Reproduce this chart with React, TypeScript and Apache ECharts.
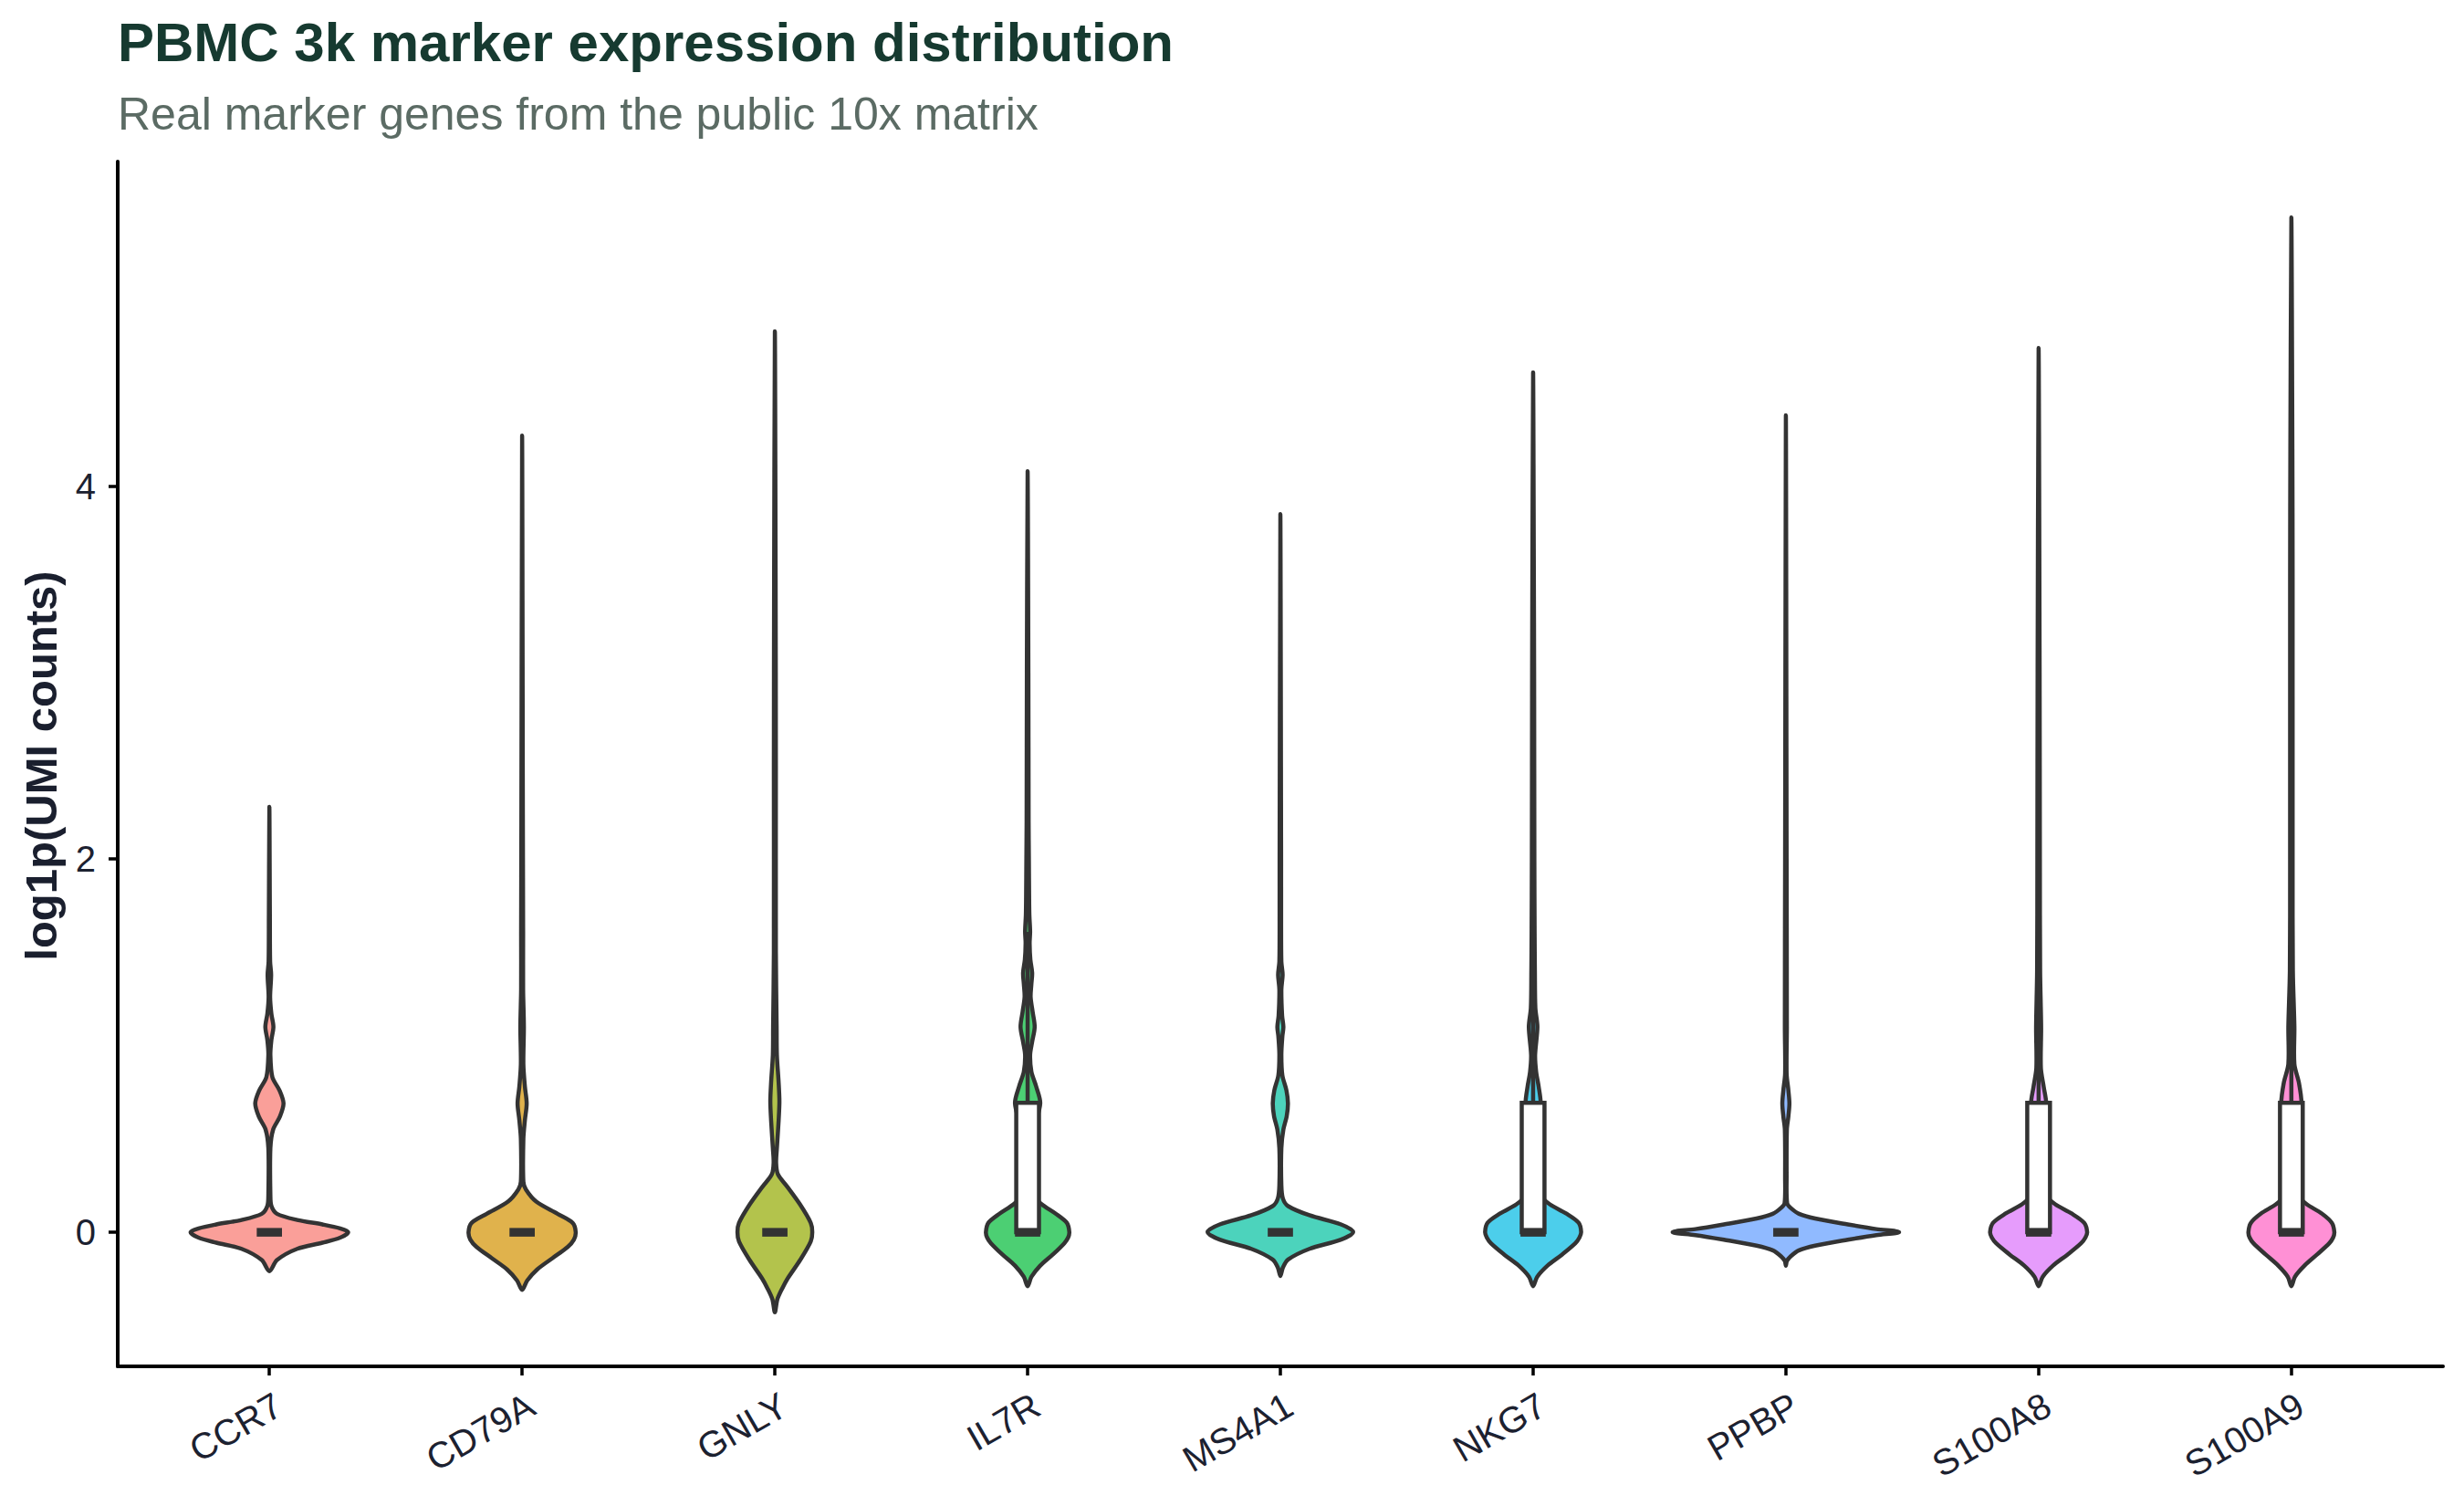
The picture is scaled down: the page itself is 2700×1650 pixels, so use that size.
import React, { useEffect, useRef } from "react";
import * as echarts from "echarts";

const genes = ["CCR7", "CD79A", "GNLY", "IL7R", "MS4A1", "NKG7", "PPBP", "S100A8", "S100A9"];
const colors = ["#F8766D", "#D39200", "#93AA00", "#00BA38", "#00C19F", "#00B9E3", "#619CFF", "#DB72FB", "#FF61C3"];

// Violin outlines: [log1p(UMI) value, half width in category units], bottom to top
const violinCCR7 = [[-0.21, 0], [-0.15, 0.03], [-0.09, 0.11], [-0.057, 0.21], [-0.03, 0.28], [0, 0.312], [0.02, 0.28], [0.041, 0.21], [0.065, 0.11], [0.098, 0.03], [0.14, 0.008], [0.2, 0.004], [0.45, 0.004], [0.55, 0.015], [0.62, 0.042], [0.69, 0.056], [0.76, 0.04], [0.83, 0.012], [0.95, 0.004], [1.03, 0.008], [1.1, 0.016], [1.17, 0.008], [1.26, 0.003], [1.38, 0.007], [1.45, 0.003], [1.7, 0.002], [2.28, 0]];
const violinCD79A = [[-0.31, 0], [-0.26, 0.02], [-0.2, 0.06], [-0.14, 0.12], [-0.08, 0.18], [-0.04, 0.205], [0, 0.212], [0.049, 0.2], [0.098, 0.14], [0.163, 0.056], [0.228, 0.015], [0.27, 0.005], [0.5, 0.005], [0.6, 0.011], [0.69, 0.018], [0.78, 0.011], [0.9, 0.005], [1.1, 0.007], [1.3, 0.004], [1.6, 0.004], [2.2, 0.003], [4.27, 0]];
const violinGNLY = [[-0.43, 0], [-0.36, 0.01], [-0.3, 0.03], [-0.25, 0.05], [-0.15, 0.1], [-0.05, 0.142], [0, 0.148], [0.049, 0.142], [0.147, 0.1], [0.245, 0.048], [0.31, 0.012], [0.37, 0.005], [0.45, 0.008], [0.6, 0.015], [0.7, 0.018], [0.8, 0.015], [0.95, 0.008], [1.1, 0.007], [1.5, 0.004], [2.5, 0.004], [3.5, 0.003], [4.83, 0]];
const violinIL7R = [[-0.29, 0], [-0.24, 0.015], [-0.18, 0.05], [-0.12, 0.1], [-0.06, 0.145], [-0.03, 0.16], [0, 0.165], [0.05, 0.155], [0.1, 0.11], [0.15, 0.055], [0.2, 0.02], [0.26, 0.008], [0.4, 0.01], [0.55, 0.025], [0.69, 0.05], [0.78, 0.034], [0.86, 0.015], [0.95, 0.01], [1.02, 0.018], [1.1, 0.028], [1.18, 0.02], [1.26, 0.012], [1.33, 0.015], [1.39, 0.018], [1.46, 0.011], [1.55, 0.008], [1.61, 0.01], [1.7, 0.007], [1.8, 0.006], [2.0, 0.005], [2.2, 0.004], [3.0, 0.003], [4.08, 0]];
const violinMS4A1 = [[-0.235, 0], [-0.19, 0.01], [-0.147, 0.031], [-0.09, 0.115], [-0.04, 0.24], [0, 0.288], [0.041, 0.24], [0.09, 0.115], [0.139, 0.031], [0.18, 0.01], [0.25, 0.004], [0.45, 0.004], [0.55, 0.012], [0.62, 0.025], [0.69, 0.03], [0.76, 0.024], [0.84, 0.008], [0.95, 0.004], [1.05, 0.008], [1.1, 0.012], [1.16, 0.007], [1.3, 0.004], [1.38, 0.009], [1.45, 0.004], [1.7, 0.003], [2.0, 0.003], [3.85, 0]];
const violinNKG7 = [[-0.29, 0], [-0.24, 0.016], [-0.18, 0.057], [-0.12, 0.115], [-0.06, 0.167], [-0.03, 0.183], [0, 0.19], [0.05, 0.18], [0.1, 0.13], [0.15, 0.065], [0.2, 0.025], [0.26, 0.01], [0.4, 0.012], [0.55, 0.02], [0.69, 0.03], [0.78, 0.022], [0.86, 0.012], [0.95, 0.008], [1.1, 0.017], [1.2, 0.009], [1.4, 0.007], [1.6, 0.006], [2.0, 0.005], [3.0, 0.004], [3.5, 0.003], [4.61, 0]];
const violinPPBP = [[-0.18, 0], [-0.155, 0.004], [-0.13, 0.019], [-0.098, 0.052], [-0.073, 0.116], [-0.041, 0.245], [-0.016, 0.358], [-0.005, 0.435], [0, 0.448], [0.005, 0.435], [0.016, 0.358], [0.041, 0.245], [0.073, 0.116], [0.098, 0.052], [0.13, 0.019], [0.155, 0.005], [0.3, 0.003], [0.55, 0.004], [0.62, 0.01], [0.69, 0.014], [0.76, 0.01], [0.85, 0.003], [1.1, 0.004], [2.0, 0.003], [4.38, 0]];
const violinS100A8 = [[-0.29, 0], [-0.24, 0.016], [-0.18, 0.057], [-0.12, 0.115], [-0.06, 0.168], [-0.03, 0.185], [0, 0.192], [0.05, 0.18], [0.1, 0.13], [0.15, 0.065], [0.2, 0.025], [0.26, 0.012], [0.4, 0.014], [0.55, 0.02], [0.69, 0.03], [0.78, 0.02], [0.88, 0.009], [1.1, 0.01], [1.4, 0.006], [2.0, 0.005], [3.0, 0.004], [4.74, 0]];
const violinS100A9 = [[-0.29, 0], [-0.24, 0.014], [-0.18, 0.052], [-0.12, 0.102], [-0.06, 0.15], [-0.03, 0.165], [0, 0.17], [0.05, 0.16], [0.1, 0.12], [0.15, 0.06], [0.2, 0.025], [0.26, 0.014], [0.4, 0.018], [0.55, 0.028], [0.69, 0.04], [0.8, 0.03], [0.9, 0.012], [1.1, 0.012], [1.4, 0.006], [2.0, 0.005], [3.5, 0.005], [4.2, 0.004], [5.44, 0]];
const violins = [violinCCR7, violinCD79A, violinGNLY, violinIL7R, violinMS4A1, violinNKG7, violinPPBP, violinS100A8, violinS100A9];

// Box plot statistics
const boxQ1 = [0, 0, 0, 0, 0, 0, 0, 0, 0];
const boxMedian = [0, 0, 0, 0, 0, 0, 0, 0, 0];
const boxQ3 = [0, 0, 0, 0.693, 0, 0.693, 0, 0.693, 0.693];
const whiskerHigh = [0, 0, 0, 1.609, 0, 1.609, 0, 1.609, 1.609];

const yTicks = [0, 2, 4];
const xTicks = genes.map((_, i) => i);

const FONT = "'Liberation Sans', Arial, Helvetica, sans-serif";
const STROKE = "#333333";

function rgba(hex: string, a: number) {
  const n = parseInt(hex.slice(1), 16);
  return `rgba(${(n >> 16) & 255},${(n >> 8) & 255},${n & 255},${a})`;
}

export default function App() {
  const ref = useRef<HTMLDivElement>(null);
  useEffect(() => {
    if (!ref.current) return;
    const chart = echarts.init(ref.current, null, { renderer: "svg" });
    const option: any = {
      animation: false,
      backgroundColor: "#ffffff",
      grid: { left: 129, right: 23, top: 177, bottom: 153, containLabel: false },
      graphic: [
        {
          type: "text",
          x: 129,
          y: 46,
          style: { text: "PBMC 3k marker expression distribution", fontSize: 60, fontWeight: "bold", fontFamily: FONT, fill: "#163a30", align: "left", verticalAlign: "middle" },
        },
        {
          type: "text",
          x: 129,
          y: 125,
          style: { text: "Real marker genes from the public 10x matrix", fontSize: 50, fontFamily: FONT, fill: "#5b6b64", align: "left", verticalAlign: "middle" },
        },
        {
          type: "text",
          x: 45,
          y: 839,
          rotation: Math.PI / 2,
          style: { text: "log1p(UMI counts)", fontSize: 49, fontWeight: "bold", fontFamily: FONT, fill: "#1a1f2e", align: "center", verticalAlign: "middle" },
        },
      ],
      xAxis: {
        type: "value",
        min: -0.6,
        max: 8.6,
        splitLine: { show: false },
        axisLine: { show: true, onZero: false, lineStyle: { color: "#000000", width: 4 } },
        axisTick: { show: true, customValues: xTicks, length: 10, lineStyle: { color: "#000000", width: 3.5 } },
        axisLabel: {
          customValues: xTicks,
          formatter: (v: number) => genes[Math.round(v)] ?? "",
          rotate: 30,
          fontSize: 40,
          fontFamily: FONT,
          color: "#1c2130",
          margin: 22,
          verticalAlign: "top",
          align: "right",
        },
      },
      yAxis: {
        type: "value",
        min: -0.72,
        max: 5.74,
        splitLine: { show: false },
        axisLine: { show: true, onZero: false, lineStyle: { color: "#000000", width: 4 } },
        axisTick: { show: true, customValues: yTicks, length: 10, lineStyle: { color: "#000000", width: 3.5 } },
        axisLabel: { customValues: yTicks, fontSize: 40, fontFamily: FONT, color: "#1c2130", margin: 24 },
      },
      series: [
        {
          type: "custom",
          name: "violin",
          data: genes.map((_, i) => [i]),
          clip: false,
          renderItem: (_params: any, api: any) => {
            const i = api.value(0);
            const prof = violins[i];
            const right = prof.map(([y, w]: number[]) => api.coord([i + w, y]));
            const left = prof
              .slice(1, -1)
              .reverse()
              .map(([y, w]: number[]) => api.coord([i - w, y]));
            return {
              type: "polygon",
              shape: { points: right.concat(left), smooth: 0.3 },
              style: { fill: rgba(colors[i], 0.7), stroke: STROKE, lineWidth: 4.5, lineJoin: "round" },
            };
          },
        },
        {
          type: "custom",
          name: "box",
          data: genes.map((_, i) => [i]),
          clip: false,
          z: 3,
          renderItem: (_params: any, api: any) => {
            const i = api.value(0);
            const hw = 0.045;
            const children: any[] = [];
            if (whiskerHigh[i] > boxQ3[i]) {
              const a = api.coord([i, boxQ3[i]]);
              const b = api.coord([i, whiskerHigh[i]]);
              children.push({ type: "line", shape: { x1: a[0], y1: a[1], x2: b[0], y2: b[1] }, style: { stroke: STROKE, lineWidth: 4.5 } });
            }
            const tl = api.coord([i - hw, boxQ3[i]]);
            const br = api.coord([i + hw, boxQ1[i]]);
            children.push({
              type: "rect",
              shape: { x: tl[0], y: tl[1], width: br[0] - tl[0], height: br[1] - tl[1] },
              style: { fill: "#ffffff", stroke: STROKE, lineWidth: 4.5 },
            });
            const ml = api.coord([i - 0.05, boxMedian[i]]);
            const mr = api.coord([i + 0.05, boxMedian[i]]);
            children.push({
              type: "rect",
              shape: { x: ml[0], y: ml[1] - 4.5, width: mr[0] - ml[0], height: 9.5 },
              style: { fill: STROKE },
            });
            return { type: "group", children };
          },
        },
      ],
    };
    chart.setOption(option);
    return () => chart.dispose();
  }, []);
  return <div ref={ref} style={{ position: "fixed", left: 0, top: 0, width: 2700, height: 1650 }} />;
}
